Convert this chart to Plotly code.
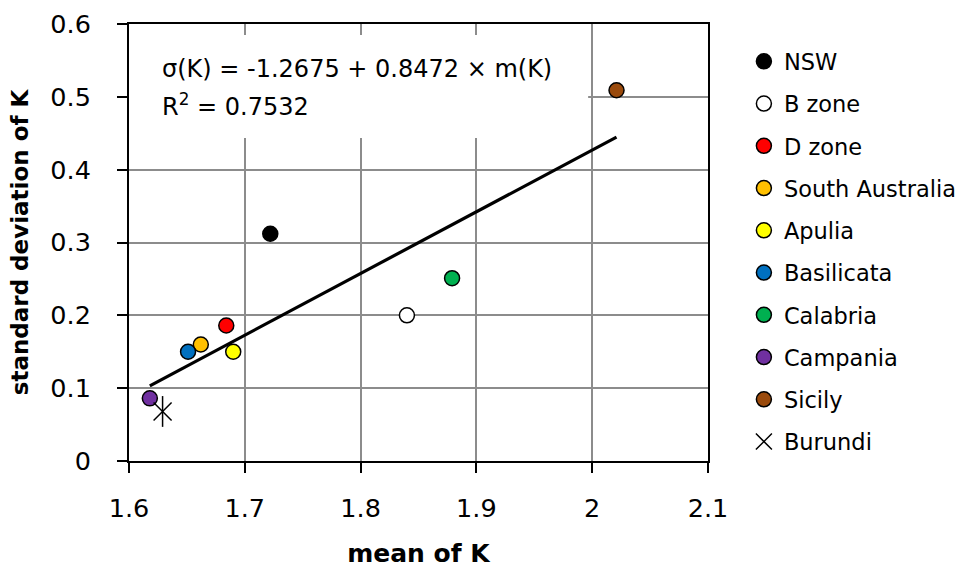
import plotly.graph_objects as go

# Mean and standard deviation of K by region
regions = ["NSW", "B zone", "D zone", "South Australia", "Apulia",
           "Basilicata", "Calabria", "Campania", "Sicily", "Burundi"]
mean_k = [1.722, 1.840, 1.684, 1.662, 1.690, 1.651, 1.879, 1.618, 2.021, 1.629]
sd_k = [0.312, 0.200, 0.186, 0.160, 0.150, 0.150, 0.251, 0.086, 0.509, 0.068]
fill_colors = ["#000000", "#FFFFFF", "#FF0000", "#FFC000", "#FFFF00",
               "#0070C0", "#00B050", "#7030A0", "#9A4A0C", None]

# Linear fit reported on the chart
intercept = -1.2675
slope = 0.8472
r_squared = 0.7532

x_ticks = [1.6, 1.7, 1.8, 1.9, 2.0, 2.1]
x_tick_text = ["1.6", "1.7", "1.8", "1.9", "2", "2.1"]
y_ticks = [0, 0.1, 0.2, 0.3, 0.4, 0.5, 0.6]
y_tick_text = ["0", "0.1", "0.2", "0.3", "0.4", "0.5", "0.6"]

FONT = "DejaVu Sans"

fig = go.Figure()

# Fitted line across the range of the circle-marked regions
fit_x = [min(mean_k[:9]), max(mean_k[:9])]
fit_y = [intercept + slope * v for v in fit_x]
fig.add_trace(go.Scatter(x=fit_x, y=fit_y, mode="lines",
                         line=dict(color="black", width=3.2),
                         showlegend=False, hoverinfo="skip"))

for i, name in enumerate(regions):
    if fill_colors[i] is None:
        marker = dict(symbol="x-thin-open", size=18, color="black",
                      line=dict(color="black", width=1.5))
    else:
        marker = dict(symbol="circle", size=15, color=fill_colors[i],
                      line=dict(color="black", width=1.5))
    fig.add_trace(go.Scatter(x=[mean_k[i]], y=[sd_k[i]], mode="markers",
                             name=name, marker=marker, legendgroup=name))
    if fill_colors[i] is None:
        # vertical stroke completing the star symbol
        fig.add_trace(go.Scatter(x=[mean_k[i]], y=[sd_k[i]], mode="markers",
                                 marker=dict(symbol="line-ns-open", size=22,
                                             color="black",
                                             line=dict(color="black", width=1.5)),
                                 showlegend=False, legendgroup=name,
                                 hoverinfo="skip"))

# White box behind the equation text
fig.add_shape(type="rect", xref="paper", yref="paper",
              x0=0.0, x1=0.793, y0=0.739, y1=0.975,
              fillcolor="white", line=dict(width=0), layer="above")
eq_font = dict(family=FONT, size=24, color="black")
fig.add_annotation(xref="paper", yref="paper", x=0.053, y=0.898,
                   xanchor="left", yanchor="middle", showarrow=False,
                   text=f"σ(K) = {intercept} + {slope} × m(K)", font=eq_font)
fig.add_annotation(xref="paper", yref="paper", x=0.053, y=0.815,
                   xanchor="left", yanchor="middle", showarrow=False,
                   text=f"R<sup>2</sup> = {r_squared}", font=eq_font)

axis_common = dict(showline=True, linecolor="black", linewidth=2, mirror=True,
                   showgrid=True, gridcolor="#8C8C8C", gridwidth=1.5,
                   ticks="outside", ticklen=10, tickwidth=2, tickcolor="black",
                   zeroline=False,
                   tickfont=dict(family=FONT, size=25.5, color="black"))

fig.update_xaxes(range=[1.6, 2.1], tickvals=x_ticks, ticktext=x_tick_text,
                 ticklabelstandoff=13,
                 title=dict(text="<b>mean of K</b>", standoff=27,
                            font=dict(family=FONT, size=25, color="black")),
                 **axis_common)
fig.update_yaxes(range=[0, 0.6], tickvals=y_ticks, ticktext=y_tick_text,
                 ticklabelstandoff=21,
                 title=dict(text="<b>standard deviation of K</b>", standoff=15,
                            font=dict(family=FONT, size=23, color="black")),
                 **axis_common)

fig.update_layout(
    width=959, height=568,
    margin=dict(l=129, r=251, t=24, b=107, autoexpand=False),
    paper_bgcolor="white", plot_bgcolor="white",
    font=dict(family=FONT, color="black"),
    legend=dict(x=1.062, y=0.963, xanchor="left", yanchor="top",
                font=dict(family=FONT, size=22.5, color="black"),
                tracegroupgap=10, itemsizing="trace",
                bgcolor="rgba(0,0,0,0)"),
)

fig.write_html("out.html")
